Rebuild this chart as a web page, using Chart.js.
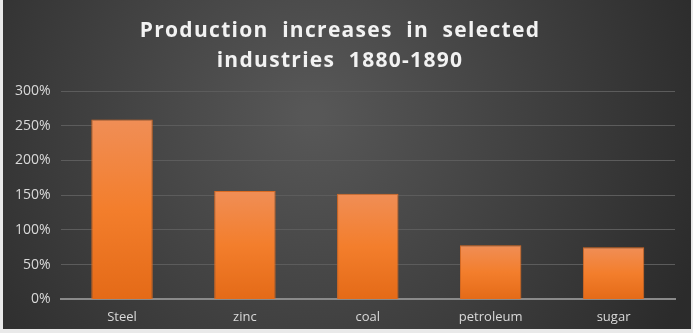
<!DOCTYPE html>
<html>
<head>
<meta charset="utf-8">
<script src="https://cdn.jsdelivr.net/npm/chart.js@4"></script>
<style>
	html, body { margin: 0; padding: 0; background: #e9e9e9; }
	#wrap { position: absolute; left: 3px; top: 0; width: 688px; height: 329px; }
</style>
</head>
<body>
<div id="wrap"><canvas id="prodChart"></canvas></div>
<script>
'use strict';
const aryIndustries = ['Steel', 'zinc', 'coal', 'petroleum', 'sugar'];
const aryIncrease = [2.59, 1.56, 1.52, 0.78, 0.75];
const aryTitle = ['Production  increases  in  selected', 'industries  1880-1890'];

// dark radial background like the office theme
const bgPlugin = {
	id: 'bgPlugin',
	afterInit(chart) {
		// wider letter spacing for the title only
		const tb = chart.titleBlock;
		if (tb) {
			const orig = tb.draw.bind(tb);
			tb.draw = function () {
				chart.ctx.save();
				chart.ctx.letterSpacing = '1.3px';
				orig();
				chart.ctx.restore();
			};
		}
	},
	beforeDraw(chart) {
		const ctx = chart.ctx;
		const w = chart.width, h = chart.height;
		const g = ctx.createRadialGradient(w * 0.45, h * 0.35, 10, w * 0.45, h * 0.35, w * 0.6);
		g.addColorStop(0, '#575757');
		g.addColorStop(1, '#2b2b2b');
		ctx.save();
		ctx.fillStyle = g;
		ctx.fillRect(0, 0, w, h);
		ctx.restore();
	}
};

function barGradient(context) {
	const chart = context.chart;
	const area = chart.chartArea;
	if (!area) return '#f07d2c';
	const yScale = chart.scales.y;
	const top = yScale.getPixelForValue(context.raw);
	const bottom = yScale.getPixelForValue(0);
	const g = chart.ctx.createLinearGradient(0, top, 0, bottom);
	g.addColorStop(0, '#f08e56');
	g.addColorStop(0.5, '#f37e2c');
	g.addColorStop(1, '#e46a17');
	return g;
}

new Chart(document.getElementById('prodChart'), {
	type: 'bar',
	data: {
		labels: aryIndustries,
		datasets: [{
			data: aryIncrease,
			backgroundColor: barGradient,
			borderColor: '#d96a22',
			borderWidth: 1,
			categoryPercentage: 1,
			barPercentage: 0.5,
		}],
	},
	options: {
		responsive: true,
		maintainAspectRatio: false,
		animation: false,
		layout: { padding: { left: 2, right: 16, top: 0, bottom: 2 } },
		plugins: {
			legend: { display: false },
			tooltip: { enabled: false },
			title: {
				display: true,
				text: aryTitle,
				color: '#f2f2f2',
				font: { family: 'Open Sans', size: 21, weight: 'bold', lineHeight: 1.43 },
				padding: { top: 16, bottom: 15 },
			},
		},
		scales: {
			x: {
				grid: { display: false },
				border: { color: '#8a8a8a', width: 2 },
				ticks: { color: '#d9d9d9', font: { family: 'Open Sans', size: 13 }, padding: 2 },
			},
			y: {
				min: 0,
				max: 3,
				grid: { color: '#5c5c5c', drawTicks: false },
				border: { display: false },
				ticks: {
					stepSize: 0.5,
					color: '#d9d9d9',
					padding: 10,
					font: { family: 'Open Sans', size: 14 },
					callback: (v) => Math.round(v * 100) + '%',
				},
			},
		},
	},
	plugins: [bgPlugin],
});
</script>
</body>
</html>
